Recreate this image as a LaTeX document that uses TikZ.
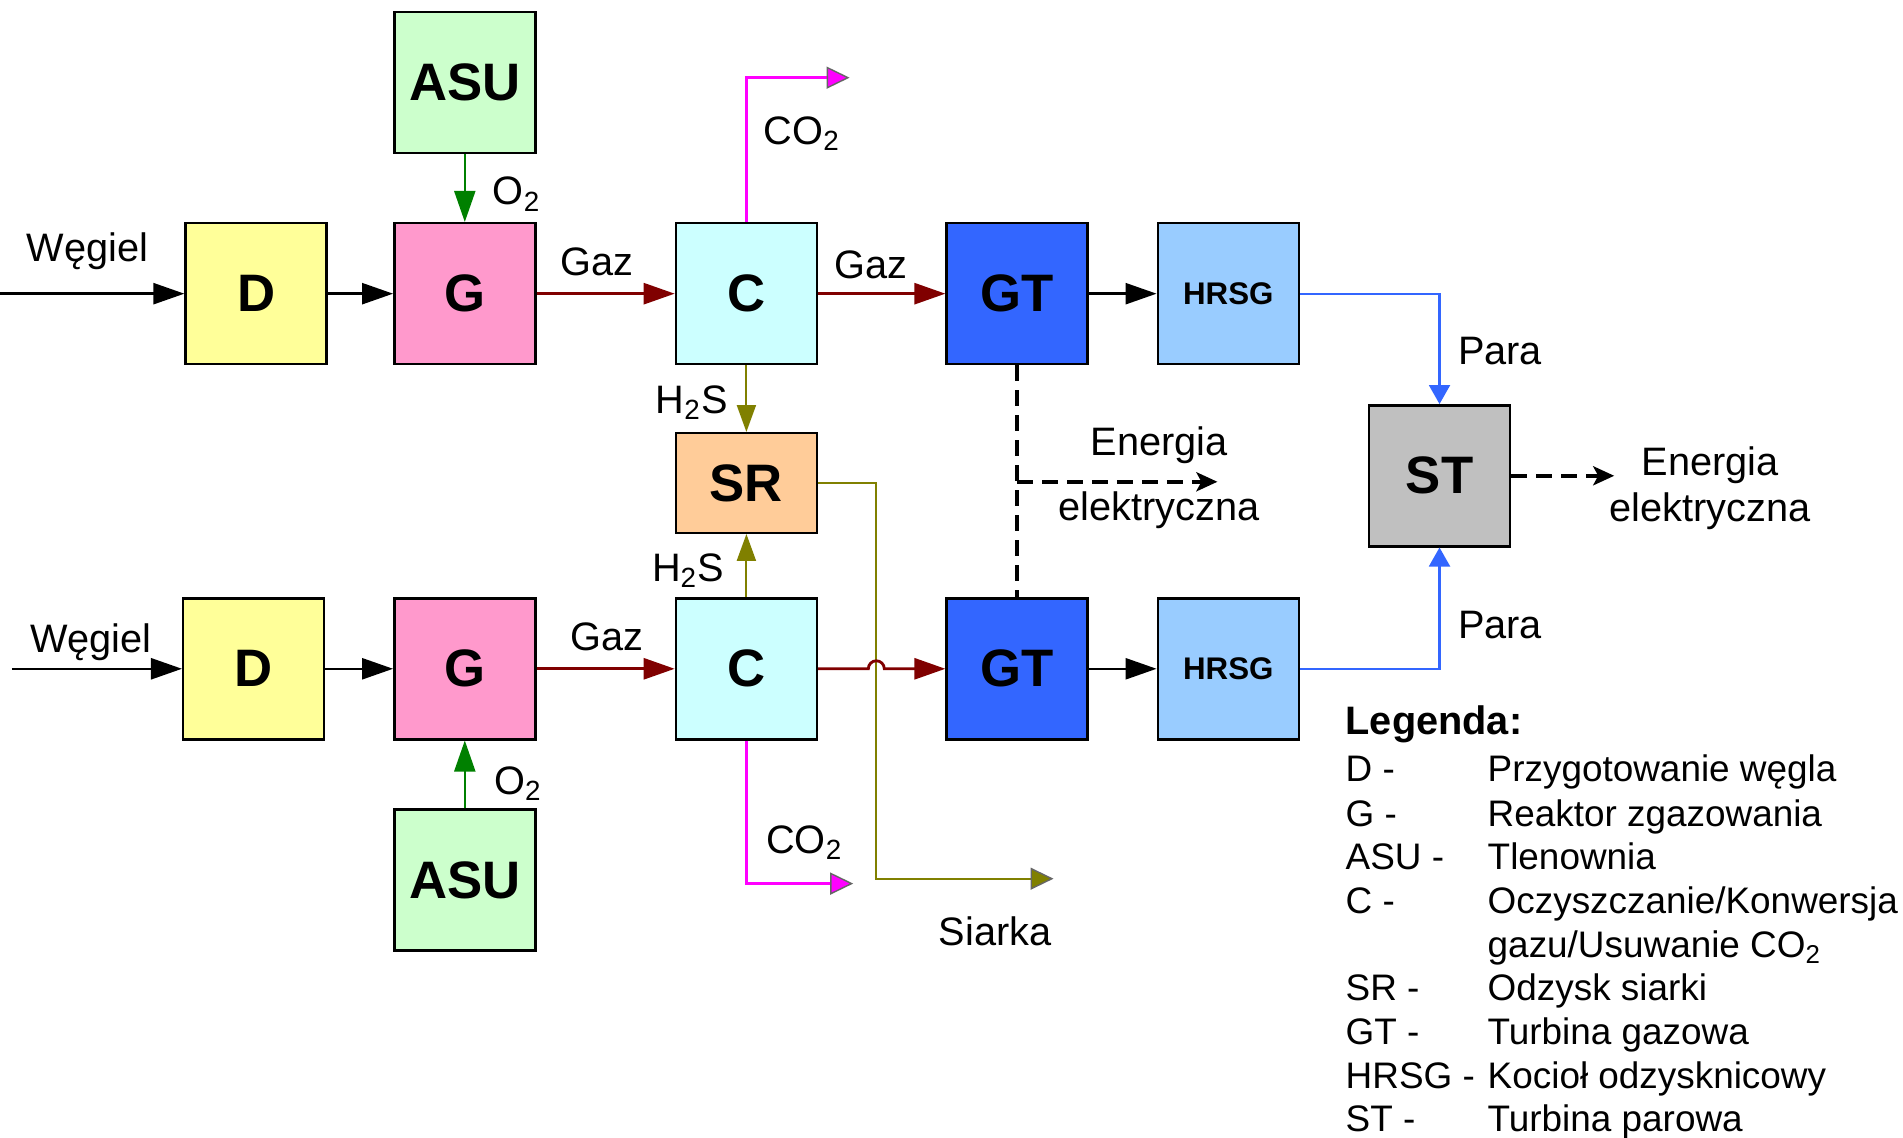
\documentclass[tikz,border=0pt]{standalone}
\usepackage{fontspec}
\setmainfont{Liberation Sans}
\usetikzlibrary{arrows.meta,positioning}
\definecolor{dfill}{HTML}{FFFF99}
\definecolor{gfill}{HTML}{FF99CC}
\definecolor{asufill}{HTML}{CCFFCC}
\definecolor{cfill}{HTML}{CCFFFF}
\definecolor{srfill}{HTML}{FFCC99}
\definecolor{gtfill}{HTML}{3366FF}
\definecolor{hrsgfill}{HTML}{99CCFF}
\definecolor{stfill}{HTML}{C0C0C0}
\definecolor{gasred}{HTML}{800000}
\definecolor{oxgreen}{HTML}{008000}
\definecolor{sulfol}{HTML}{808000}
\definecolor{copink}{HTML}{FF00FF}
\definecolor{steamblue}{HTML}{3366FF}

\begin{document}
\begin{tikzpicture}[font=\fontsize{11.3}{13.1}\selectfont,>={Triangle[length=3.1mm,width=2.1mm]},
  unit/.style={draw=black,line width=0.7pt,minimum width=1.41cm,minimum height=1.41cm,
               inner sep=0pt,font=\fontsize{15}{17}\selectfont\bfseries},
  flow/.style={->,line width=0.7pt},
  gas/.style={flow,gasred,line width=0.8pt},
  oxy/.style={flow,oxgreen,line width=0.6pt},
  hts/.style={->,sulfol,line width=0.6pt,>={Triangle[length=2.7mm,width=1.9mm]}},
  coflow/.style={-{Triangle[length=2.3mm,width=2.2mm,color=black!60,fill=copink,line width=0.4pt]},
                 copink,line width=0.7pt},
  sulflow/.style={-{Triangle[length=2.3mm,width=2.2mm,color=black!60,fill=sulfol,line width=0.4pt]},
                  sulfol,line width=0.6pt},
  steam/.style={-{Triangle[length=1.9mm,width=2.1mm]},steamblue,line width=0.6pt},
  power/.style={line width=1.1pt,dash pattern=on 4.5pt off 2.6pt},
  ptip/.style={-{Stealth[length=2.1mm,width=1.9mm,inset=0.5mm]}},
  lab/.style={inner sep=0pt},
  leg/.style={anchor=base west,inner sep=0pt,font=\fontsize{10.5}{12}\selectfont}]
\useasboundingbox (0,0) rectangle (19.03,11.38);

% ===== upper train =====
\node[unit,fill=dfill] (d1) at (2.561,8.443) {D};
\node[unit,fill=gfill] (g1) at (4.648,8.443) {G};
\node[unit,fill=asufill] (asu1) at (4.648,10.555) {ASU};
\node[unit,fill=cfill] (c1) at (7.464,8.443) {C};
\node[unit,fill=gtfill] (gt1) at (10.171,8.443) {GT};
\node[unit,fill=hrsgfill,font=\fontsize{8.9}{10}\selectfont\bfseries] (hrsg1) at (12.283,8.443) {HRSG};

% ===== shared units =====
\node[unit,fill=srfill,minimum height=0.995cm] (sr) at (7.464,6.55) {SR};
\node[unit,fill=stfill] (st) at (14.395,6.622) {ST};

% ===== lower train =====
\node[unit,fill=dfill] (d2) at (2.537,4.692) {D};
\node[unit,fill=gfill] (g2) at (4.648,4.692) {G};
\node[unit,fill=asufill] (asu2) at (4.648,2.58) {ASU};
\node[unit,fill=cfill] (c2) at (7.464,4.692) {C};
\node[unit,fill=gtfill] (gt2) at (10.171,4.692) {GT};
\node[unit,fill=hrsgfill,font=\fontsize{8.9}{10}\selectfont\bfseries] (hrsg2) at (12.283,4.692) {HRSG};

% ===== free ends =====
\coordinate (coal1) at (0,8.443);
\coordinate (coal2) at (0.12,4.692);
\coordinate (co2a) at (8.496,10.603);
\coordinate (co2b) at (8.532,2.544);
\coordinate (sbend) at (8.763,2.593);
\coordinate (sout) at (10.535,2.593);
\coordinate (hop) at (sbend |- c2);
\coordinate (power1) at (12.174,6.562);
\coordinate (tap) at (gt1 |- power1);
\coordinate (power2) at (16.142,6.622);

% ===== connectors =====
\draw[flow] (coal1) -- (d1);
\draw[flow] (d1) -- (g1);
\draw[oxy] (asu1) -- (g1);
\draw[gas] (g1) -- (c1);
\draw[gas] (c1) -- (gt1);
\draw[flow] (gt1) -- (hrsg1);
\draw[coflow] (c1.north) |- (co2a);
\draw[hts] (c1) -- (sr);

\draw[flow] (coal2) -- (d2);
\draw[flow] (d2) -- (g2);
\draw[oxy] (asu2) -- (g2);
\draw[gas] (g2) -- (c2);
\draw[flow] (gt2) -- (hrsg2);
\draw[coflow] (c2.south) |- (co2b);
\draw[hts] (c2) -- (sr);

\draw[sulflow] (sr.east) -| (sbend) -- (sout);
\draw[gas] (c2.east) -- ([xshift=-0.8mm]hop) arc[start angle=180,end angle=0,radius=0.8mm] -- (gt2.west);

\draw[steam] (hrsg1.east) -| (st.north);
\draw[steam] (hrsg2.east) -| (st.south);

\draw[power] (gt1.south) -- (gt2.north);
\draw[power,ptip] (tap) -- (power1);
\draw[power,ptip] (st.east) -- (power2);

% ===== stream labels =====
\node[lab] (wlab1) at (0.874,8.868) {Węgiel};
\node[lab] (wlab2) at (0.91,4.958) {Węgiel};
\node[lab] (gaz1) at (5.971,8.758) {Gaz};
\node[lab] (gaz2) at (8.714,8.734) {Gaz};
\node[lab] (gaz3) at (6.069,5.008) {Gaz};
\node[lab] (oxlab1) at (5.17,9.438) {O\textsubscript{2}};
\node[lab] (oxlab2) at (5.182,3.54) {O\textsubscript{2}};
\node[lab] (colab1) at (8.023,10.045) {CO\textsubscript{2}};
\node[lab] (colab2) at (8.047,2.957) {CO\textsubscript{2}};
\node[lab] (hslab1) at (6.918,7.35) {H\textsubscript{2}S};
\node[lab] (hslab2) at (6.882,5.676) {H\textsubscript{2}S};
\node[lab] (slab) at (9.952,2.071) {Siarka};
\node[lab] (elab1) at (11.59,6.926) {Energia};
\node[lab] (elab2) at (11.59,6.282) {elektryczna};
\node[lab] (plab1) at (15.0,7.872) {Para};
\node[lab] (plab2) at (15.0,5.13) {Para};
\node[lab,align=center] (elab3) at (17.10,6.50) {Energia\\elektryczna};

% ===== legend =====
\node[leg,font=\fontsize{11.3}{13}\selectfont\bfseries] (legt) at (13.45,4.03) {Legenda:};
\node[leg] (lk1) at (13.45,3.567) {D -};
\node[leg] (lv1) at (14.87,3.567) {Przygotowanie węgla};
\node[leg] (lk2) at (13.45,3.118) {G -};
\node[leg] (lv2) at (14.87,3.118) {Reaktor zgazowania};
\node[leg] (lk3) at (13.45,2.681) {ASU -};
\node[leg] (lv3) at (14.87,2.681) {Tlenownia};
\node[leg] (lk4) at (13.45,2.244) {C -};
\node[leg] (lv4) at (14.87,2.244) {Oczyszczanie/Konwersja};
\node[leg] (lv4b) at (14.87,1.807) {gazu/Usuwanie CO\textsubscript{2}};
\node[leg] (lk5) at (13.45,1.371) {SR -};
\node[leg] (lv5) at (14.87,1.371) {Odzysk siarki};
\node[leg] (lk6) at (13.45,0.934) {GT -};
\node[leg] (lv6) at (14.87,0.934) {Turbina gazowa};
\node[leg] (lk7) at (13.45,0.496) {HRSG -};
\node[leg] (lv7) at (14.87,0.496) {Kocioł odzysknicowy};
\node[leg] (lk8) at (13.45,0.06) {ST -};
\node[leg] (lv8) at (14.87,0.06) {Turbina parowa};

\end{tikzpicture}
\end{document}
